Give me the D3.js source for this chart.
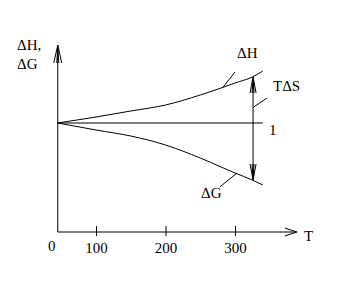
<!DOCTYPE html>
<html>
<head>
<meta charset="utf-8">
<script src="https://cdn.jsdelivr.net/npm/d3@7"></script>
<style>
  body { margin: 0; background: #fff; }
  text { font-family: "Liberation Serif", "DejaVu Serif", serif; font-size: 15px; fill: #000; }
</style>
</head>
<body>
<svg id="svg" width="349" height="291"></svg>
<script>
// temperatures along the curves
var temps = [45, 100, 150, 200, 250, 280, 300, 325, 340];
// enthalpy and free energy (arbitrary units, 0 = the "1" line)
var dH = [0, 6, 12, 18, 28, 35, 40, 46, 52];
var dG = [0, -7, -13, -22, -35, -44, -50, -57, -62];
var tickValues = [100, 200, 300];
var tOrigin = 45, tEnd = 389;
var yTop = 78;
// TΔS double arrow
var tdsT = 326, tdsFrom = 46, tdsTo = -57;
// leader lines for the labels
var leaders = [
  { t: [283, 300], v: [36, 51] },
  { t: [278, 303], v: [-64, -50] },
  { t: [327, 346], v: [16, 25] }
];

var svg = d3.select("#svg");
var x = d3.scaleLinear().domain([100, 300]).range([96, 235]);
var y = d3.scaleLinear().domain([-80, 80]).range([203, 43]);
var x0 = x(tOrigin), yBase = 232;

var g = svg.append("g")
  .attr("fill", "none")
  .attr("stroke", "#000")
  .attr("stroke-width", 1);

// axes
g.append("line").attr("x1", x0).attr("x2", x0).attr("y1", y(yTop)).attr("y2", yBase);
g.append("line").attr("x1", x0).attr("x2", x(tEnd)).attr("y1", yBase).attr("y2", yBase);
g.append("path")
  .attr("d", "M-4,18L0,0L4,18M-1,18L0,2L1,18")
  .attr("transform", `translate(${x0},${y(yTop)})`);
g.append("path")
  .attr("d", "M-12,-4L0,0L-12,4")
  .attr("transform", `translate(${x(tEnd)},${yBase})`);

var ticks = d3.axisBottom(x).tickValues(tickValues).tickSize(0).tickFormat(d3.format("d"));
svg.append("g")
  .attr("transform", `translate(0,${yBase})`)
  .call(ticks)
  .call(a => a.select(".domain").remove())
  .call(a => a.selectAll(".tick text")
    .attr("y", 0).attr("dy", 21)
    .attr("font-family", null).attr("font-size", null))
  .call(a => a.selectAll(".tick line")
    .attr("y1", -6).attr("y2", 4).attr("stroke", "#000"));

// reference line "1"
g.append("line")
  .attr("x1", x0).attr("x2", x(340)).attr("y1", y(0)).attr("y2", y(0));

var line = d3.line()
  .x((d, i) => x(temps[i]))
  .y(d => y(d))
  .curve(d3.curveMonotoneX);

g.append("path").attr("d", line(dH));
g.append("path").attr("d", line(dG));

// TΔS arrow
var ax = x(tdsT);
g.append("line").attr("x1", ax).attr("x2", ax).attr("y1", y(tdsFrom)).attr("y2", y(tdsTo));
g.append("path")
  .attr("d", "M-3,16L0,0L3,16M-1,16L0,2L1,16")
  .attr("transform", `translate(${ax},${y(tdsFrom)})`);
g.append("path")
  .attr("d", "M-3,-16L0,0L3,-16M-1,-16L0,-2L1,-16")
  .attr("transform", `translate(${ax},${y(tdsTo)})`);

leaders.forEach(function (l) {
  g.append("line")
    .attr("x1", x(l.t[0])).attr("y1", y(l.v[0]))
    .attr("x2", x(l.t[1])).attr("y2", y(l.v[1]));
});

// labels
svg.append("text").attr("x", 17).attr("y", 50).text("ΔH,");
svg.append("text").attr("x", 17).attr("y", 69).text("ΔG");
svg.append("text").attr("x", x0 - 6).attr("y", 251).attr("text-anchor", "middle").text("0");
svg.append("text").attr("x", 304).attr("y", 241).text("T");
svg.append("text").attr("x", 237).attr("y", 58).text("ΔH");
svg.append("text").attr("x", 201).attr("y", 198).text("ΔG");
svg.append("text").attr("x", 273).attr("y", 91).text("TΔS");
svg.append("text").attr("x", 269).attr("y", 135).text("1");
</script>
</body>
</html>
